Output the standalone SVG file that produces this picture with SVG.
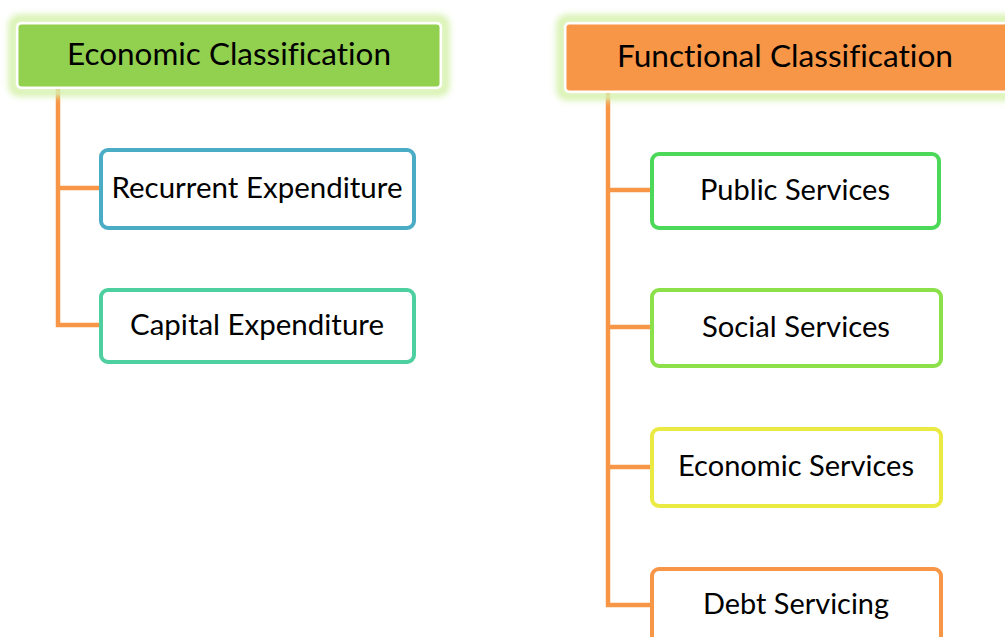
<svg xmlns="http://www.w3.org/2000/svg" width="1005" height="637" viewBox="0 0 1005 637">
<defs>
<filter id="glow" x="-10%" y="-40%" width="120%" height="180%">
<feGaussianBlur stdDeviation="3"/>
</filter>
<style>
.lbl{font-family:Lato,"Open Sans","Liberation Sans",sans-serif;fill:#000;text-anchor:middle;font-variant-ligatures:none;font-feature-settings:"liga" 0}
.hd{font-size:30px}
.it{font-size:28px}
.box{fill:#fff;stroke-width:4}
.con{fill:none;stroke:#F79646;stroke-width:4.5}
.gl{fill:none;stroke:#D8F2B0;stroke-width:9}
</style>
</defs>
<rect width="1005" height="637" fill="#fff"/>
<g id="connectors">
<path class="con" d="M58 88 V325 H101 M58 188 H101"/>
<path class="con" d="M608 92 V605 H652 M608 190 H652 M608 327 H652 M608 467 H652"/>
</g>
<g id="economic-classification">
<rect class="gl" x="13" y="19" width="432" height="73" rx="6" filter="url(#glow)"/>
<rect x="16" y="22" width="426" height="67" rx="5" fill="#fff"/>
<rect x="18.5" y="24.5" width="421" height="62" rx="3" fill="#92D050"/>
<text class="lbl hd" x="229" y="65" textLength="324" lengthAdjust="spacingAndGlyphs">Economic Classification</text>
</g>
<g id="functional-classification">
<rect class="gl" x="561" y="19" width="460" height="77" rx="6" filter="url(#glow)"/>
<rect x="564" y="22" width="460" height="71" rx="5" fill="#fff"/>
<rect x="566.5" y="24.5" width="455" height="66" rx="3" fill="#F79646"/>
<text class="lbl hd" x="785" y="67" textLength="336" lengthAdjust="spacingAndGlyphs">Functional Classification</text>
</g>
<g id="recurrent-expenditure">
<rect class="box" x="101" y="150" width="313" height="78" rx="7" stroke="#4BACC6"/>
<text class="lbl it" x="257" y="198" textLength="291" lengthAdjust="spacingAndGlyphs">Recurrent Expenditure</text>
</g>
<g id="capital-expenditure">
<rect class="box" x="101" y="290" width="313" height="72" rx="7" stroke="#4ECFA0"/>
<text class="lbl it" x="257" y="335" textLength="254" lengthAdjust="spacingAndGlyphs">Capital Expenditure</text>
</g>
<g id="public-services">
<rect class="box" x="652" y="154" width="287" height="74" rx="7" stroke="#4CD95A"/>
<text class="lbl it" x="795" y="200" textLength="190" lengthAdjust="spacingAndGlyphs">Public Services</text>
</g>
<g id="social-services">
<rect class="box" x="652" y="290" width="289" height="76" rx="7" stroke="#8CE04A"/>
<text class="lbl it" x="796" y="337" textLength="188" lengthAdjust="spacingAndGlyphs">Social Services</text>
</g>
<g id="economic-services">
<rect class="box" x="652" y="429" width="289" height="77" rx="7" stroke="#EAEA42"/>
<text class="lbl it" x="796" y="476" textLength="236" lengthAdjust="spacingAndGlyphs">Economic Services</text>
</g>
<g id="debt-servicing">
<rect class="box" x="652" y="569" width="289" height="90" rx="7" stroke="#F79646"/>
<text class="lbl it" x="796" y="614" textLength="186" lengthAdjust="spacingAndGlyphs">Debt Servicing</text>
</g>
</svg>
